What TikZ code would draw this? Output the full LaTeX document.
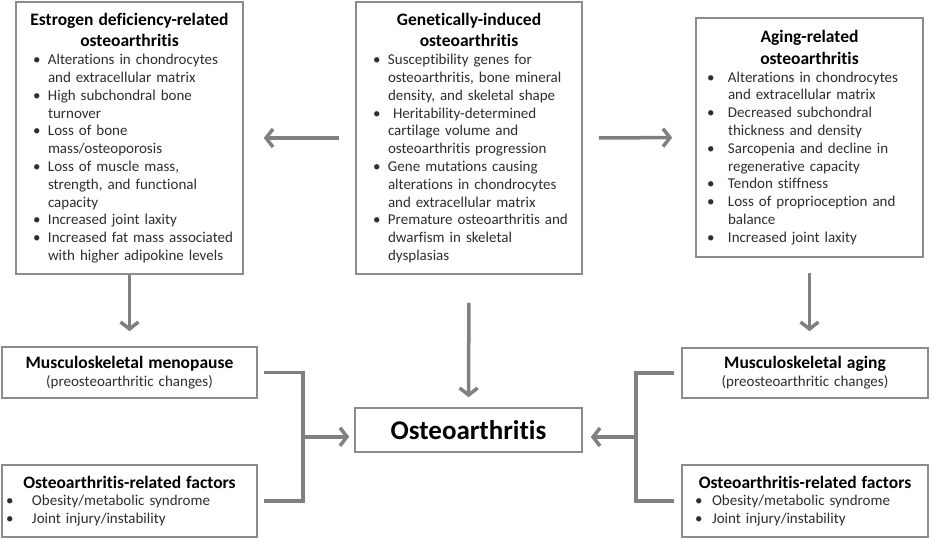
\documentclass[tikz,border=0pt]{standalone}
\usepackage{fontspec}
\setmainfont{Carlito}[Ligatures=NoCommon]
\usetikzlibrary{arrows.meta,calc}

\definecolor{boxgray}{HTML}{8C8C8C}
\definecolor{linkgray}{HTML}{808080}
\definecolor{txtgray}{HTML}{2E2E2E}

\newlength{\bskip}
\newlength{\bhang}
% bullet line with hanging indent
\newcommand{\bpt}[1]{\par\hangindent=\bhang\hangafter=1\noindent\hbox to\bhang{\hskip\bskip\textbullet\hfil}{\let\\\newline #1}}
\newcommand{\ttl}[1]{{\centering\color{black}\fontsize{17.5}{21.7}\selectfont\bfseries #1\par}}

\begin{document}
\begin{tikzpicture}[x=1pt, y=-1pt,
  box/.style={draw=boxgray, line width=1.6pt, fill=white, text=txtgray,
    align=left, inner xsep=4pt, inner ysep=3pt,
    font=\fontsize{15}{17.8}\selectfont},
  bullets/.style 2 args={execute at begin node={\setlength{\bskip}{#1}\setlength{\bhang}{#2}}},
  link/.style={draw=linkgray, line width=3.5pt},
  arr/.style={link, -{Straight Barb[length=7pt,width=18pt]}}]
  \useasboundingbox (0,0) rectangle (939,539);

  \node[box, bullets={13pt}{28pt}, text width=219pt, minimum height=272pt] (estrogen) at (129.5,138) {%
    \ttl{Estrogen deficiency-related\\ osteoarthritis}
    \bpt{Alterations in chondrocytes\\ and extracellular matrix}
    \bpt{High subchondral bone\\ turnover}
    \bpt{Loss of bone\\ mass/osteoporosis}
    \bpt{Loss of muscle mass,\\ strength, and functional\\ capacity}
    \bpt{Increased joint laxity}
    \bpt{Increased fat mass associated\\ with higher adipokine levels}\par};

  \node[box, bullets={13pt}{28pt}, text width=218pt, minimum height=272pt] (genetic) at (469,138) {%
    \ttl{Genetically-induced\\ osteoarthritis}
    \bpt{Susceptibility genes for\\ osteoarthritis, bone mineral\\ density, and skeletal shape}
    \bpt{\ Heritability-determined\\ cartilage volume and\\ osteoarthritis progression}
    \bpt{Gene mutations causing\\ alterations in chondrocytes\\ and extracellular matrix}
    \bpt{Premature osteoarthritis and\\ dwarfism in skeletal\\ dysplasias}\par};

  \node[box, bullets={7pt}{28pt}, text width=219pt, minimum height=239pt] (aging) at (809.5,137.5) {%
    \ttl{Aging-related\\ osteoarthritis}
    \bpt{Alterations in chondrocytes\\ and extracellular matrix}
    \bpt{Decreased subchondral\\ thickness and density}
    \bpt{Sarcopenia and decline in\\ regenerative capacity}
    \bpt{Tendon stiffness}
    \bpt{Loss of proprioception and\\ balance}
    \bpt{Increased joint laxity}\par};

  \node[box, text width=247pt, minimum height=51pt] (menopause) at (129.5,372.5) {%
    \ttl{Musculoskeletal menopause}
    {\centering (preosteoarthritic changes)\par}};

  \node[box, bullets={0pt}{26pt}, text width=247pt, minimum height=72pt] (factorsL) at (129.5,501) {%
    \ttl{Osteoarthritis-related factors}
    \bpt{Obesity/metabolic syndrome}
    \bpt{Joint injury/instability}\par};

  \node[box, text width=238pt, minimum height=50pt] (muscaging) at (805,373) {%
    \ttl{Musculoskeletal aging}
    {\centering (preosteoarthritic changes)\par}};

  \node[box, bullets={9pt}{26pt}, text width=238pt, minimum height=72pt] (factorsR) at (805,501) {%
    \ttl{Osteoarthritis-related factors}
    \bpt{Obesity/metabolic syndrome}
    \bpt{Joint injury/instability}\par};

  \node[box, align=center, minimum width=227pt, minimum height=44pt, text=black,
    font=\fontsize{27}{30}\selectfont\bfseries] (oa) at (468.5,430) {Osteoarthritis};

  % arrows from the top row
  \draw[arr, shorten <=16pt, shorten >=20pt] (genetic.west) -- (estrogen.east);
  \draw[arr, shorten <=16pt, shorten >=23pt] (genetic.east) -- (aging.west);
  \draw[arr, shorten <=28pt, shorten >=10pt] (genetic.south) -- (oa.north);
  \draw[arr, shorten >=15pt] (estrogen.south) -- (menopause.north);
  \draw[arr, shorten <=15pt, shorten >=16pt] (aging.south) -- (aging.south |- muscaging.north);

  % brackets to the centre
  \draw[link, shorten <=6pt, shorten >=6pt] (menopause.east) -- ++(45,0) coordinate (jl) |- (factorsL.east);
  \coordinate (jlm) at ($(jl)!0.5!(jl |- factorsL.east)$);
  \draw[arr, shorten >=5pt] (jlm) -- (oa.west |- jlm);
  \draw[link, shorten <=7pt, shorten >=7pt] (muscaging.west) -- ++(-45,0) coordinate (jr) |- (factorsR.west);
  \coordinate (jrm) at ($(jr)!0.5!(jr |- factorsR.west)$);
  \draw[arr, shorten >=8pt] (jrm) -- (oa.east |- jrm);
\end{tikzpicture}
\end{document}
